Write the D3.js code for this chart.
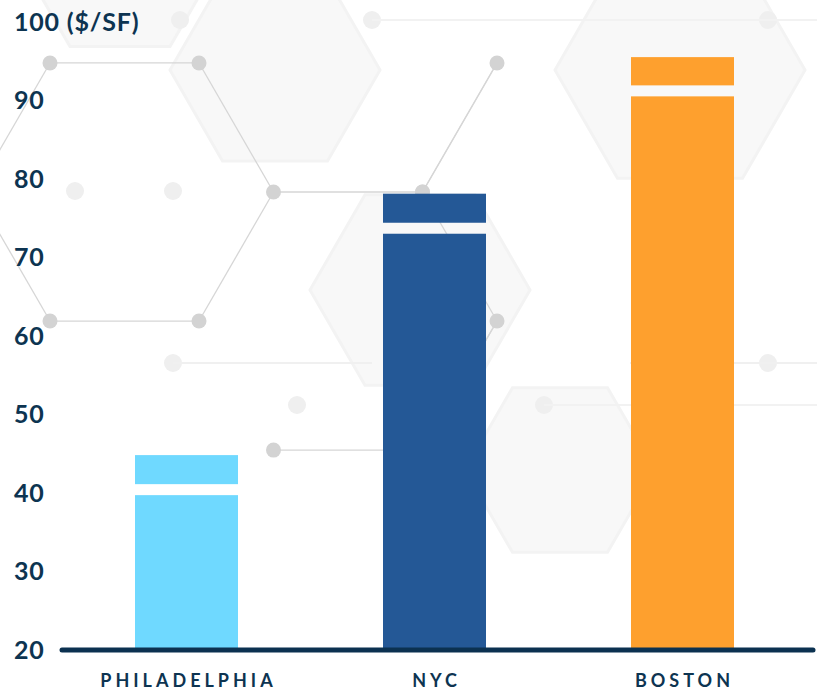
<!DOCTYPE html>
<html>
<head>
<meta charset="utf-8">
<script src="https://cdn.jsdelivr.net/npm/d3@7"></script>
<style>
  body { margin: 0; background: #fff; }
  svg { display: block; }
  .tick text { font-family: Lato, "Open Sans", sans-serif; font-weight: 700; fill: #0d3451; }
</style>
</head>
<body>
<div id="chart"></div>
<script>
var width = 817;
var height = 690;

// data ($/SF)
var cities = ["PHILADELPHIA", "NYC", "BOSTON"];
var lowTop = [39.6, 72.9, 90.4];      // top of the lower block
var highBottom = [41.0, 74.3, 91.8];  // bottom of the upper block
var highTop = [44.7, 78.0, 95.4];     // top of the upper block
var yTicks = [20, 30, 40, 50, 60, 70, 80, 90, 100];
var colors = ["#6fd9ff", "#245896", "#fea02e"];

var svg = d3.select("#chart")
  .append("svg")
  .attr("width", width)
  .attr("height", height);

// background hex network (decoration)
var bg = svg.append("g").attr("class", "bg");
var s = 149, h = s * Math.sqrt(3) / 2;
function hexPts(cx, cy, r) {
  return d3.range(6).map(function(i) {
    var a = Math.PI / 3 * i;
    return [cx + r * Math.cos(a), cy + r * Math.sin(a)];
  });
}
var fills = [[275, 70, 105], [420, 290, 110], [680, 70, 125], [120, -40, 100], [560, 470, 95]];
fills.forEach(function(f) {
  bg.append("polygon")
    .attr("points", hexPts(f[0], f[1], f[2]).join(" "))
    .attr("fill", "#f8f8f8")
    .attr("stroke", "#f3f3f3")
    .attr("stroke-width", 3);
});

// lattice edges, each as [hex column, hex row, vertex a, vertex b]
var c0 = [124.5, 192];
function hv(cx, cy, i) { return hexPts(cx, cy, s)[i]; }
var edges = [
  [0, 0, 4, 5], [0, 0, 3, 4], [0, 0, 5, 0], [0, 0, 0, 1], [0, 0, 1, 2], [0, 0, 2, 3],
  [1, -1, 1, 2], [1, -1, 0, 1],
  [1, 1, 5, 0], [1, 1, 1, 2], [1, 1, 0, 1],
  [2, 0, 3, 4], [2, 2, 3, 4]
];
var nodeSet = {};
edges.forEach(function(e) {
  var cx = c0[0] + e[0] * 1.5 * s;
  var cy = c0[1] + e[1] * h;
  var a = hv(cx, cy, e[2]), b = hv(cx, cy, e[3]);
  bg.append("line")
    .attr("x1", a[0]).attr("y1", a[1])
    .attr("x2", b[0]).attr("y2", b[1])
    .attr("stroke", "#d6d6d6")
    .attr("stroke-width", 1.3);
  nodeSet[Math.round(a[0]) + "," + Math.round(a[1])] = a;
  nodeSet[Math.round(b[0]) + "," + Math.round(b[1])] = b;
});
Object.keys(nodeSet).forEach(function(k) {
  var p = nodeSet[k];
  if (p[0] < 0 || p[1] < 0) return;
  bg.append("circle")
    .attr("cx", p[0]).attr("cy", p[1])
    .attr("r", 7.5)
    .attr("fill", "#d3d3d3");
});
// faint second layer
var faint = [[75, 191], [173, 191], [297, 405], [544, 405], [173, 363], [768, 363], [768, 20], [372, 20], [180, 20]];
faint.forEach(function(p) {
  bg.append("circle")
    .attr("cx", p[0]).attr("cy", p[1])
    .attr("r", 9)
    .attr("fill", "#efefef");
});
bg.append("line").attr("x1", 173).attr("y1", 363).attr("x2", 372).attr("y2", 363)
  .attr("stroke", "#f0f0f0").attr("stroke-width", 2);
bg.append("line").attr("x1", 544).attr("y1", 405).attr("x2", 817).attr("y2", 405)
  .attr("stroke", "#f2f2f2").attr("stroke-width", 2);
bg.append("line").attr("x1", 630).attr("y1", 363).attr("x2", 817).attr("y2", 363)
  .attr("stroke", "#f0f0f0").attr("stroke-width", 2);
bg.append("line").attr("x1", 372).attr("y1", 20).attr("x2", 817).attr("y2", 20)
  .attr("stroke", "#f2f2f2").attr("stroke-width", 2);

// scales
var y = d3.scaleLinear().domain([20, 100]).range([649, 21]);
var x = d3.scalePoint().domain(cities).range([186.5, 682.5]);
var barW = 103;

// y axis
var yAxis = svg.append("g")
  .call(d3.axisLeft(y)
    .tickValues(yTicks)
    .tickSize(0)
    .tickFormat(function(d) { return d === 100 ? "100 ($/SF)" : d; }));
yAxis.select(".domain").remove();
yAxis.selectAll(".tick text")
  .attr("x", 14)
  .attr("dy", "0.36em")
  .attr("text-anchor", "start")
  .attr("font-size", "25px")
  .attr("letter-spacing", "0.8px");

// bars
var bars = svg.append("g").attr("class", "bars");
cities.forEach(function(c, i) {
  bars.append("rect")
    .attr("x", x(c) - barW / 2)
    .attr("y", y(lowTop[i]))
    .attr("width", barW)
    .attr("height", y(20) - y(lowTop[i]))
    .attr("fill", colors[i]);
  bars.append("rect")
    .attr("x", x(c) - barW / 2)
    .attr("y", y(highTop[i]))
    .attr("width", barW)
    .attr("height", y(highBottom[i]) - y(highTop[i]))
    .attr("fill", colors[i]);
});

// baseline
svg.append("line")
  .attr("x1", 62)
  .attr("x2", 813)
  .attr("y1", y(20) + 1)
  .attr("y2", y(20) + 1)
  .attr("stroke", "#0b3150")
  .attr("stroke-width", 5)
  .attr("stroke-linecap", "round");

// category labels
svg.append("g")
  .selectAll("text")
  .data(cities)
  .enter()
  .append("text")
  .attr("x", function(d) { return x(d) + 2; })
  .attr("y", 687)
  .attr("text-anchor", "middle")
  .attr("font-family", "Lato, 'Open Sans', sans-serif")
  .attr("font-weight", 700)
  .attr("font-size", "18px")
  .attr("letter-spacing", "4px")
  .attr("fill", "#0d3451")
  .text(function(d) { return d; });
</script>
</body>
</html>
